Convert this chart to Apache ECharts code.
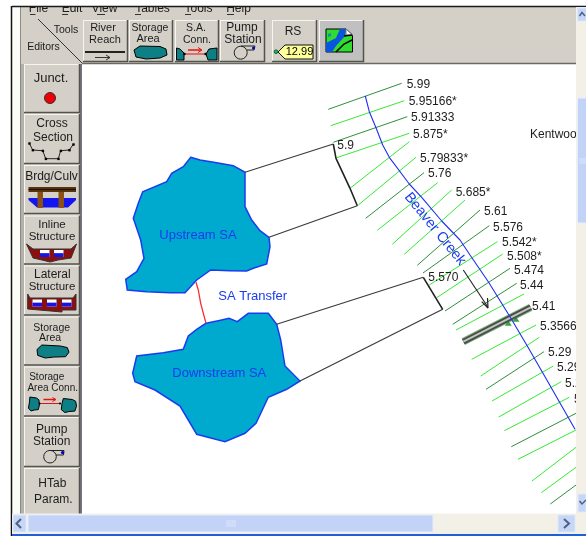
<!DOCTYPE html>
<html><head><meta charset="utf-8">
<script src="https://cdn.jsdelivr.net/npm/echarts@6/dist/echarts.min.js"></script>
<style>html,body{margin:0;padding:0;background:#fff}#c{width:586px;height:536px;filter:blur(0.35px)}</style>
</head><body><div id="c"></div>
<script>
// --- River-system geometry (x, y in schematic units) ---
const riverLine = [[365.3,96],[369.3,111.7],[376,127.7],[382.7,145],[389.3,157.3],[409.3,184],[421.7,197.3],[441.7,221],[460,240],[470,255],[488.3,281.7],[510,316.7],[526.7,345],[545,376.7],[575,429.3]];
const upstreamSA = [[190.7,157.3],[200,160],[216.7,162.7],[233.3,165.7],[245,172.3],[245,206.7],[251.7,220],[260,230.7],[269,237.3],[270,246.7],[266.7,264],[253.3,268.3],[246.7,271],[230,270.7],[210.7,270],[196.7,280],[185,292.7],[170,292.7],[146.7,291.7],[127.3,290],[125.7,279.3],[136.7,271.7],[144,258.3],[140.7,240],[133.3,218.3],[138.3,203.3],[142.7,191.7],[166.7,181.7],[171.7,173.3],[183.3,166.7]];
const downstreamSA = [[206,323.3],[218.3,320.7],[229,318.3],[237.3,321.7],[248.3,313.3],[268.3,313.3],[276.7,324.3],[280.7,340],[285,366],[300,381],[286.7,389.3],[268.3,397.3],[256,423.3],[245,433.3],[225,441.7],[196.7,434.3],[188.3,420],[180,406],[155,390],[135,381.7],[132.7,373.3],[136.7,356],[163.3,352.7],[183.3,349.3],[188.3,336],[196.7,329.3]];
const saTransfer = [[196,282.3],[198.3,290],[200.7,303.3],[206,323.3]];
const connectorLines = [[245,172.3,333.3,144],[269,237.3,357.3,205.7],[276.7,324.3,423.3,277.3],[300,381,442.7,309.3]];
const weirUpper = [[333.3,144],[336,158.3],[350,188.3],[357.3,205.7]];
const weirLower = [[423.3,277.3],[442.7,309.3]];
// surveyed cross sections (darker green)
const surveyedXS = [[328.3,109.3,401.7,83.3],[333.3,142.3,407.3,116.7],[365.7,218.3,424,172.7],[417.3,265.3,480,210],[423,273,489.3,225.7],[445,311,510,268.3],[452.7,324.3,516.7,283.3],[486,389.3,544,351.7],[511.3,446.7,576,413.3],[550.3,504,576,485]];
// interpolated cross sections (bright green)
const interpolatedXS = [[330.7,125.7,404.3,100.7],[336.7,157.7,409.3,133.3],[350,188.3,409.3,141.7],[358.3,205,416,157.3],[377.3,230.3,437.7,182.7],[392.3,244.3,451.7,190],[404.3,254.3,465,200],[429.3,285,497.3,241.7],[436.7,297.7,502.7,254],[456,330,524,294],[471.7,359.3,536,325],[480.7,376,539.3,337.3],[492,401,553.3,366],[498.7,417,561.3,381.7],[504.3,430.7,569.3,397.3],[518,459.3,576,430],[532,481,576,447.3],[541.3,492.7,576,467.3]];
const bridgeLine = [[463.3,341.7,530.7,307.3]];
const bridgeMarks = [[508.3,323.3],[516,319.3]];
const reachArrow = [[463.3,270],[487.7,306.7]];
const reachArrowHead = [[481.7,301.7],[488,308],[487.5,298]];
const stationNames = ['5.99','5.95166*','5.91333','5.875*','5.79833*','5.76','5.685*','5.61','5.576','5.542*','5.508*','5.474','5.44','5.41','5.3566','5.29','5.29','5.29','5.29','5.9','5.570','Kentwood'];
const stationX = [406.7,408.7,411,413,420,428,455.7,484,493,502,507,514,520,532,540,548,557,565,574,337.3,428.3,530];
const stationY = [85,102,118,135,159,174,193,212,228,243,257,271,286,307,327,353,368,384,400,146,277.5,135];
const areaNames = ['Upstream SA','Downstream SA','SA Transfer'];
const areaNameX = [198,219.3,252.7];
const areaNameY = [235.7,373,296];

// --- window chrome helpers ---
const FACE='#d4d0c8', TXT='#1c1c1c', F='"Liberation Sans",Arial,sans-serif';
let Z=100; const g=[];
const rect=(x,y,w,h,fill,stroke)=>g.push({type:'rect',z:Z++,silent:true,shape:{x,y,width:w,height:h},style:{fill,stroke:stroke||null,lineWidth:1}});
const line=(x1,y1,x2,y2,c,w)=>g.push({type:'line',z:Z++,silent:true,shape:{x1,y1,x2,y2},style:{stroke:c,lineWidth:w||1}});
const poly=(points,fill,stroke,w)=>g.push({type:'polygon',z:Z++,silent:true,shape:{points,smooth:0},style:{fill,stroke:stroke||null,lineWidth:w||1}});
const pl=(points,c,w)=>g.push({type:'polyline',z:Z++,silent:true,shape:{points},style:{stroke:c,lineWidth:w||1,fill:null}});
const circ=(cx,cy,r,fill,stroke)=>g.push({type:'circle',z:Z++,silent:true,shape:{cx,cy,r},style:{fill,stroke:stroke||null,lineWidth:1}});
const text=(s,x,y,size,opt)=>g.push({type:'text',z:Z++,silent:true,style:Object.assign({text:s,x,y,align:'center',verticalAlign:'middle',font:size+'px '+F,fill:TXT},opt||{})});
const button=(x,y,w,h,fill)=>{rect(x,y,w,h,fill||FACE);
  line(x,y+.5,x+w,y+.5,'#f6f5f1');line(x+.5,y,x+.5,y+h,'#f6f5f1');
  line(x,y+h-.5,x+w,y+h-.5,'#55534e',1.5);line(x+w-.5,y,x+w-.5,y+h,'#55534e',1.5);};
const blob=(x,y,w,h)=>poly([[x+2,y+h*.35],[x+w*.2,y],[x+w*.75,y+1],[x+w*.95,y+h*.2],[x+w,y+h*.55],[x+w*.9,y+h*.9],[x+w*.55,y+h*.93],[x+w*.3,y+h],[x+w*.08,y+h*.8]],'#0d7f85','#000');
const gate=(x,y,w,h)=>{rect(x,y,w,h,'#fff');rect(x,y+h*.45,w,h*.55,'#1414e6');};

// panels
rect(20,6,556,58,FACE);
rect(20,6,62,510,FACE);
rect(12,7,8,510,'#fbfbf8');
line(20.5,6,20.5,516,'#8d8b85',1);
rect(21,64,3,450,'#b4b1aa');
line(82,63.5,576,63.5,'#6b6964',1.5);
rect(80,64,2,450,'#77757d');
// menu, its top cut off by the strip above it
[['File',38.5,30,5.5],['Edit',72,62,6],['View',104.5,97,8],['Tables',152.5,135,6],['Tools',198.5,185,6],['Help',238.5,227,7]].forEach(m=>{
  text(m[0],m[1],9,12); line(m[2],14.5,m[2]+m[3],14.5,'#333',1);});
rect(0,0,586,6,'#fff');
line(12,6.5,586,6.5,'#1b1b1b',1.5);
line(11.5,6,11.5,536,'#111',1.5);
// corner
line(38,19,82,63,'#333');
text('Tools',66,30,10.5);
text('Editors',43.5,47,10.5);
// top tools
button(83,20,45,42); text('River',103,28,11); text('Reach',105,40,11);
line(85,52,125,52,'#222',2); line(95,57.5,110,57.5,'#333',1); pl([[106,55],[110,57.5],[106,60]],'#333');
button(129,20,44,42); text('Storage',150,28,10.5); text('Area',148,39,11);
poly([[134,50],[140,46],[160,46.5],[166,49],[167,55],[160,58],[146,59],[136,57]],'#0d7f85','#000');
button(175,20,44,42); text('S.A.',196,28,10.5); text('Conn.',197,40,10.5);
poly([[176.5,48],[180,49],[184,53],[184,60],[176.5,60]],'#0d7f85','#000');
poly([[206,54],[209,49],[217,48],[217,60],[208,60]],'#0d7f85','#000');
line(184,54,206,54,'#e81010',1); circ(184.5,54,1.2,'#000'); circ(205.5,54,1.2,'#000');
line(188,50,201,50,'#e81010',1.5); pl([[198,47.5],[202,50],[198,52.5]],'#e81010');
button(220,20,45,42); text('Pump',242,28,12); text('Station',243,40,12);
circ(240.7,52.7,6.5,'none','#222'); pl([[241,46],[255,46],[254,50],[247,50]],'#222'); circ(253.5,48,1.5,'#0000c0');
button(272,20,45,42); text('RS',293,31.5,12);
poly([[278,52],[285,45],[313,45],[313,59],[285,59]],'#ffff99','#111');
circ(276,51.7,1.8,'#22c422','#155'); text('12.99',299.5,52,11,{fill:'#000'});
button(319,20,45,42,'#c0c0c0');
poly([[326,29],[346,29],[352.5,35],[352.5,52],[326,52]],'#2fdc2f','#000');
poly([[346,29],[352.5,35],[346,35]],'#fff','#777');
poly([[326,52],[326,43],[336,38],[340,29],[346,29],[345,36],[336,46],[332,52]],'#0a55e0');
pl([[336,52],[344,44],[352,40]],'#000',1.5); pl([[344,36],[352,35]],'#000',1.5); poly([[328,34],[331,33],[331,36],[328,37]],'#1a8ab0');
// left buttons
button(24,64,56,49); text('Junct.',51,78,13); circ(50,98,5.5,'#f00000','#333');
button(24,114,56,50); text('Cross',52,124,12); text('Section',53,137.5,12);
const xs=[[29.3,143.3],[32.7,150],[42.7,150.7],[45.7,158.7],[58.3,158.7],[60.7,150.7],[69.3,150],[73.3,144.3]];
pl(xs,'#222'); xs.forEach(p=>rect(p[0]-1,p[1]-1,2.4,2.4,'#000'));
button(24,165,56,49); text('Brdg/Culv',51.5,176.5,12);
poly([[28.5,198],[76,198],[76,200],[68,207.5],[37,207.5],[28.5,200]],'#1414f0');
rect(28.5,187,47.5,5,'#5a3208'); line(28.5,189.5,76,189.5,'#111',1);
rect(37.5,192,5.5,16,'#8a5014'); rect(58.5,192,5.5,16,'#8a5014');
button(24,215.5,56,49); text('Inline',52,224.5,11.5); text('Structure',52,236.5,11.5);
poly([[26.5,244],[33,249],[71,249],[76.5,244],[71,258],[58,260],[50,262],[42,260],[33,258]],'#8a0f0f','#333');
gate(40,250,9.5,7); gate(54,250,9.5,7);
button(24,265.5,56,50); text('Lateral',52.3,275,12); text('Structure',52,286.7,11.5);
poly([[27.7,294],[30,298],[73,298],[76,294],[76,310],[62,310],[62,312],[27.7,309]],'#8a0f0f','#333');
gate(32.5,299.5,9.5,7); gate(47,299.5,9.5,7); gate(62,299.5,9.5,7);
button(24,316.5,56,49); text('Storage',51.7,327.7,10.5); text('Area',50,338,10.5); blob(35,345,34,13);
button(24,366.5,56,50); text('Storage',46.7,377.3,10); text('Area Conn.',52.7,388.3,10);
blob(27.5,397,12,14); blob(60,398.5,16.5,14);
line(39.3,403.5,60,403.5,'#e81010',1); circ(39.5,403.5,1.1,'#000'); circ(60,403.5,1.1,'#000');
line(43.5,399.5,55,399.5,'#e81010',1.5); pl([[52.5,397.5],[56,399.5],[52.5,401.5]],'#e81010');
button(24,417,56,50); text('Pump',51.7,429.3,12); text('Station',51.7,441.7,12);
circ(50,456.7,6.3,'none','#222'); pl([[50,450.5],[64,450.5],[63.5,455],[56,455]],'#222'); circ(62.5,452.5,1.6,'#0000c0');
button(24,468,56,48); text('HTab',52.3,483.3,12); text('Param.',53.3,500,12);
// right vertical scrollbar
rect(576,7,10,509,'#f3f1e7');
rect(577.5,8,9,13,'#c6d6f7','#dfe8fb'); pl([[579.5,16],[582,12.5],[585,16]],'#4d6185',1.5);
rect(577.5,98,9,125,'#c3d3f7','#e6edfc');
[159,161,163].forEach(y=>line(579,y,586,y,'#dce6fc'));
rect(578,494,8,18,'#c6d6f7','#dfe8fb'); pl([[579.5,501],[582,504],[586,500]],'#4d6185',1.5);
// bottom scrollbar
rect(12,513.5,574,20.5,'#f3f1e7');
rect(13,515,13,17,'#c6d6f7','#dfe8fb'); pl([[21,519],[16.5,523.5],[21,528]],'#4d6185',2);
rect(28,515,405,17,'#c3d3f7','#e6edfc');
[227,229,231,233,235].forEach(x=>line(x,520,x,527,'#dce6fc'));
rect(558,515,17,17,'#c6d6f7','#dfe8fb'); pl([[564,519],[569,523.5],[564,528]],'#4d6185',2);
rect(12,534,574,2,'#1f5fd8');

// --- chart ---
const segRender = (color,width)=>(params,api)=>{
  const a=api.coord([api.value(0),api.value(1)]), b=api.coord([api.value(2),api.value(3)]);
  return {type:'line',shape:{x1:a[0],y1:a[1],x2:b[0],y2:b[1]},style:{stroke:color,lineWidth:width,fill:null}};
};
const polyRender = (pts,fill,stroke)=>(params,api)=>({type:'polygon',shape:{points:pts.map(p=>api.coord(p))},style:{fill,stroke,lineWidth:1.5}});
const lineSeries=(data,color,width)=>({type:'line',data,symbol:'none',lineStyle:{color,width},silent:true,z:4,animation:false});
const labelsSeries=(names,xs,ys,font,color)=>({type:'custom',z:6,silent:true,animation:false,data:names.map((n,i)=>[xs[i],ys[i]]),
  renderItem:(p,api)=>{const c=api.coord([api.value(0),api.value(1)]);
    return {type:'text',style:{text:names[p.dataIndex],x:c[0],y:c[1],align:'left',verticalAlign:'middle',font,fill:color}};}});

const chart=echarts.init(document.getElementById('c'),null,{renderer:'canvas'});
chart.setOption({
  animation:false, backgroundColor:'#fff',
  grid:{left:0,right:0,top:0,bottom:0},
  xAxis:{type:'value',min:0,max:586,show:false},
  yAxis:{type:'value',min:0,max:536,inverse:true,show:false},
  tooltip:{show:false},
  graphic:{elements:g},
  series:[
    {type:'custom',data:[0],renderItem:polyRender(upstreamSA,'#00a9ce','#1a3cf0'),z:2,silent:true},
    {type:'custom',data:[0],renderItem:polyRender(downstreamSA,'#00a9ce','#1a3cf0'),z:2,silent:true},
    {type:'custom',data:connectorLines,renderItem:segRender('#3a3a3a',1.2),z:3,silent:true},
    {type:'custom',data:surveyedXS,renderItem:segRender('#2f8f3a',1),z:3,silent:true},
    {type:'custom',data:interpolatedXS,renderItem:segRender('#35ea35',1),z:3,silent:true},
    lineSeries(saTransfer,'#f03030',1.3),
    lineSeries(weirUpper,'#222',1.6),
    lineSeries(weirLower,'#222',1.6),
    lineSeries(riverLine,'#1f2ff0',1.1),
    {type:'custom',data:bridgeLine,renderItem:segRender('#79b879',7.5),z:4,silent:true},
    {type:'custom',data:bridgeLine,renderItem:segRender('#4a4a4a',5.5),z:4,silent:true},
    {type:'custom',data:bridgeLine,renderItem:segRender('#c4c4c4',2),z:4,silent:true},
    {type:'scatter',data:bridgeMarks,symbol:'triangle',symbolSize:[7,5],itemStyle:{color:'#0b8a1e'},z:5,silent:true},
    lineSeries(reachArrow,'#222',1.1),
    lineSeries(reachArrowHead,'#222',1.2),
    labelsSeries(stationNames,stationX,stationY,'12px '+F,'#1d1d1d'),
    {type:'custom',z:6,silent:true,data:areaNames.map((n,i)=>[areaNameX[i],areaNameY[i]]),
      renderItem:(p,api)=>{const c=api.coord([api.value(0),api.value(1)]);
        return {type:'text',style:{text:areaNames[p.dataIndex],x:c[0],y:c[1],align:'center',verticalAlign:'middle',font:'13px '+F,fill:'#1a3cf0'}};}},
    {type:'custom',z:6,silent:true,data:[[435,229]],
      renderItem:(p,api)=>{const c=api.coord([api.value(0),api.value(1)]);
        return {type:'text',x:c[0],y:c[1],rotation:-51*Math.PI/180,style:{text:'Beaver Creek',x:0,y:0,align:'center',verticalAlign:'middle',font:'14.5px '+F,fill:'#1a3cf0'}};}}
  ]
});
</script></body></html>
